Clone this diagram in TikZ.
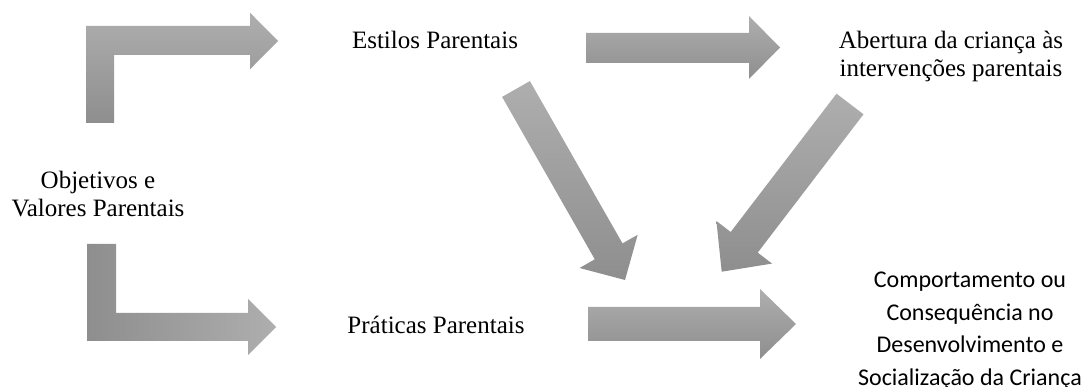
\documentclass[tikz,border=0pt]{standalone}
\usepackage{fontspec}
\setmainfont{Liberation Serif}
\newfontfamily\calib{Carlito}
\definecolor{arlight}{HTML}{AEAEAE}
\definecolor{ardark}{HTML}{8E8E8E}
\begin{document}
\begin{tikzpicture}[x=1pt,y=-1pt,
  lbl/.style={inner sep=0pt,align=center,anchor=base,font=\fontsize{25}{28.5}\selectfont},
  clbl/.style={inner sep=0pt,align=center,anchor=base,font=\calib\fontsize{24}{32.7}\selectfont},
  vshade/.style={top color=arlight,bottom color=ardark,draw=none},
  hshade/.style={left color=ardark,right color=arlight,draw=none}]
\useasboundingbox[fill=white] (0,0) rectangle (1088,387);
% labels (base anchor = baseline of the last line)
\node[lbl] (obj) at (98,216.7) {Objetivos e\\Valores Parentais};
\node[lbl] (est) at (435,48.3) {Estilos Parentais};
\node[lbl] (abe) at (951,76.7) {Abertura da criança às\\intervenções parentais};
\node[lbl] (pra) at (436,333.3) {Práticas Parentais};
\node[clbl] (com) at (970,385.5) {Comportamento ou\\Consequência no\\Desenvolvimento e\\Socialização da Criança};
% bent arrow top
\path[vshade] (86,123) -- (86,26) -- (250,26) -- (250,12.7) -- (278,41) -- (250,69.3) -- (250,55) -- (114,55) -- (114,123) -- cycle;
% bent arrow bottom
\path[hshade] (87,244) -- (116,244) -- (116,313) -- (248,313) -- (248,299) -- (276,327) -- (248,355) -- (248,341) -- (87,341) -- cycle;
% straight top
\path[vshade] (586,33) -- (749,33) -- (749,16) -- (780,47.5) -- (749,79) -- (749,63) -- (586,63) -- cycle;
% straight bottom
\path[vshade] (588,307) -- (760,307) -- (760,289) -- (796,324) -- (760,359) -- (760,341) -- (588,341) -- cycle;
% diagonal left
\path[vshade] (502.1,96.9) -- (529.9,81.1) -- (622.5,243.4) -- (637.7,234.8) -- (625,280) -- (579.6,268.0) -- (594.8,259.3) -- cycle;
% diagonal right
\path[vshade] (836.5,93.7) -- (863.5,114.3) -- (757.7,252.6) -- (772.0,263.6) -- (721.7,271.7) -- (716.4,221.0) -- (730.7,232.0) -- cycle;
\end{tikzpicture}
\end{document}
